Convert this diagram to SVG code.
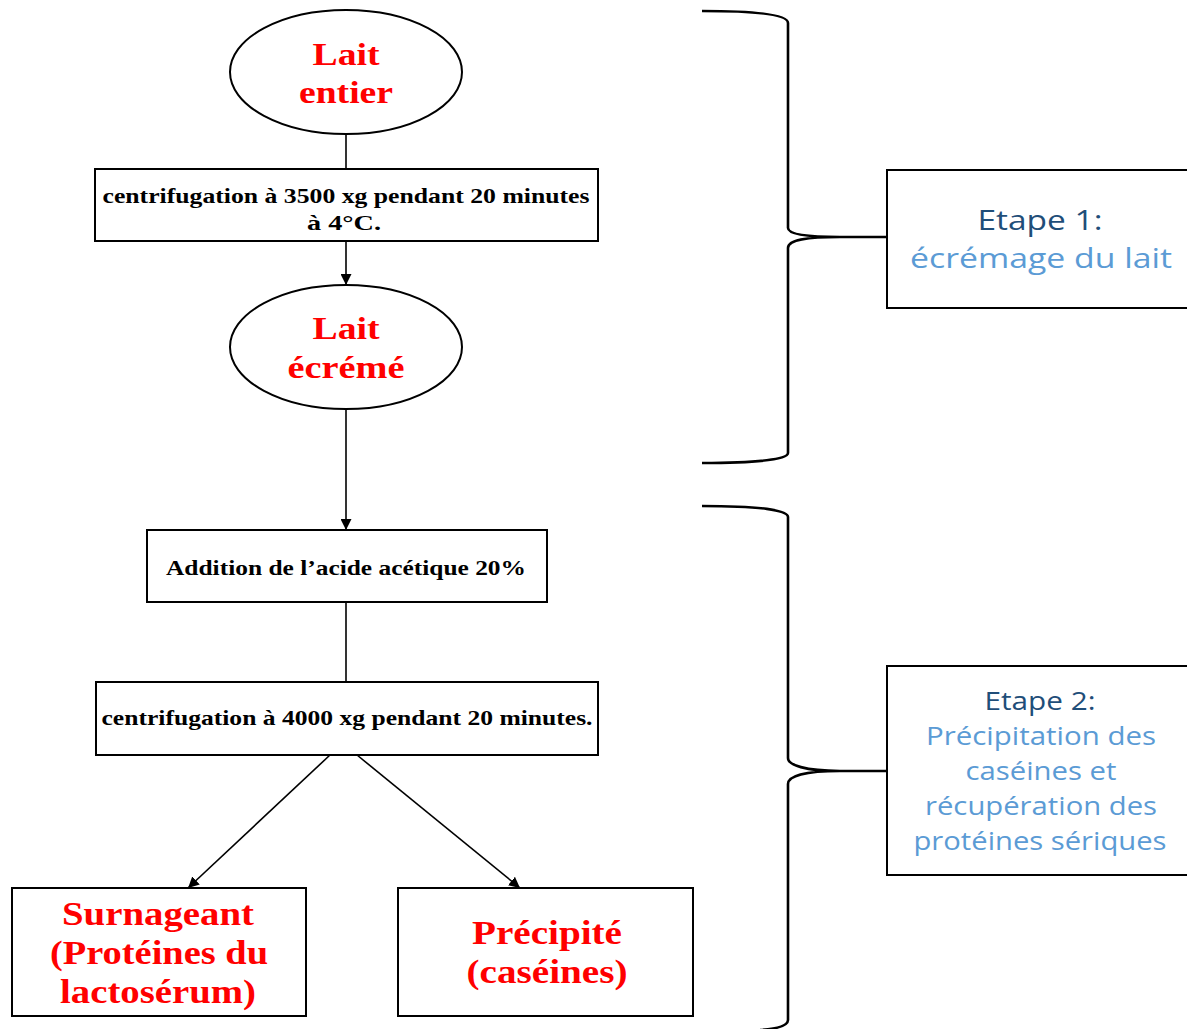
<svg xmlns="http://www.w3.org/2000/svg" width="1187" height="1029" viewBox="0 0 1187 1029">
<style>
.node{fill:#fff;stroke:#000;stroke-width:2}
.red{font-family:"Liberation Serif","Times New Roman",serif;font-weight:bold;font-size:31px;fill:#ff0000;text-anchor:middle}
.red2{font-size:33px}
.blk{font-family:"Liberation Serif","Times New Roman",serif;font-weight:bold;font-size:21.5px;fill:#000;text-anchor:middle}
.conn{stroke:#000;stroke-width:1.6;fill:none}
.brace{stroke:#000;stroke-width:2.6;fill:none}
.et{font-family:"Open Sans","Noto Sans",sans-serif;text-anchor:middle}
.dk{fill:#1f4e79}
.lt{fill:#5b9bd5}
</style>
<defs>
<marker id="arrL" viewBox="0 0 10 10" refX="10" refY="5" markerWidth="11" markerHeight="11" markerUnits="userSpaceOnUse" orient="auto">
<path d="M0,0 L10,5 L0,10 z" fill="#000"/>
</marker>
</defs>
<rect width="1187" height="1029" fill="#fff"/>
<g id="connectors">
<line class="conn" x1="346" y1="134" x2="346" y2="169"/>
<line class="conn" x1="346" y1="241" x2="346" y2="285" marker-end="url(#arrL)"/>
<line class="conn" x1="346" y1="409" x2="346" y2="530" marker-end="url(#arrL)"/>
<line class="conn" x1="346" y1="602" x2="346" y2="682"/>
<line class="conn" x1="330" y1="755" x2="188" y2="888" marker-end="url(#arrL)"/>
<line class="conn" x1="357" y1="755" x2="520" y2="888" marker-end="url(#arrL)"/>
</g>
<g id="lait-entier">
<ellipse class="node" cx="346" cy="72" rx="116" ry="62"/>
<text class="red" x="346" y="65" textLength="67" lengthAdjust="spacingAndGlyphs">Lait</text>
<text class="red" x="346" y="103" textLength="94" lengthAdjust="spacingAndGlyphs">entier</text>
</g>
<g id="centrif1">
<rect class="node" x="95" y="169" width="503" height="72"/>
<text class="blk" x="346" y="203" textLength="487" lengthAdjust="spacingAndGlyphs">centrifugation à 3500 xg pendant 20 minutes</text>
<text class="blk" x="344" y="230" textLength="74" lengthAdjust="spacingAndGlyphs">à 4°C.</text>
</g>
<g id="lait-ecreme">
<ellipse class="node" cx="346" cy="347" rx="116" ry="62"/>
<text class="red" x="346" y="339" textLength="67" lengthAdjust="spacingAndGlyphs">Lait</text>
<text class="red" x="346" y="378" textLength="117" lengthAdjust="spacingAndGlyphs">écrémé</text>
</g>
<g id="addition">
<rect class="node" x="147" y="530" width="400" height="72"/>
<text class="blk" x="346" y="575" textLength="360" lengthAdjust="spacingAndGlyphs">Addition de l’acide acétique 20%</text>
</g>
<g id="centrif2">
<rect class="node" x="96" y="682" width="502" height="73"/>
<text class="blk" x="347" y="725" textLength="491" lengthAdjust="spacingAndGlyphs">centrifugation à 4000 xg pendant 20 minutes.</text>
</g>
<g id="surnageant">
<rect class="node" x="12" y="888" width="294" height="128"/>
<text class="red red2" x="158" y="925" textLength="192" lengthAdjust="spacingAndGlyphs">Surnageant</text>
<text class="red red2" x="159" y="964" textLength="218" lengthAdjust="spacingAndGlyphs">(Protéines du</text>
<text class="red red2" x="158" y="1003" textLength="196" lengthAdjust="spacingAndGlyphs">lactosérum)</text>
</g>
<g id="precipite">
<rect class="node" x="398" y="888" width="295" height="128"/>
<text class="red red2" x="547" y="944" textLength="150" lengthAdjust="spacingAndGlyphs">Précipité</text>
<text class="red red2" x="547" y="983" textLength="161" lengthAdjust="spacingAndGlyphs">(caséines)</text>
</g>
<g id="brace1">
<path class="brace" d="M702,11 C760,11 788,15 788,23 L788,228 C788,234 805,237 840,237 L887,237 M840,237 C805,237 788,240 788,248 L788,453 C788,459 760,463 702,463"/>
</g>
<g id="etape1">
<rect class="node" x="887" y="170" width="310" height="138"/>
<text class="et dk" x="1040" y="230" font-size="28" textLength="125" lengthAdjust="spacingAndGlyphs">Etape 1:</text>
<text class="et lt" x="1041" y="268" font-size="28" textLength="262" lengthAdjust="spacingAndGlyphs">écrémage du lait</text>
</g>
<g id="brace2">
<path class="brace" d="M702,506 C760,506 788,510 788,517 L788,758 C788,765 805,771 840,771 L887,771 M840,771 C805,771 788,776 788,784 L788,1020 C788,1026 775,1029 760,1030"/>
</g>
<g id="etape2">
<rect class="node" x="887" y="666" width="310" height="209"/>
<text class="et dk" x="1040" y="710" font-size="25" textLength="111" lengthAdjust="spacingAndGlyphs">Etape 2:</text>
<text class="et lt" x="1041" y="745" font-size="25" textLength="230" lengthAdjust="spacingAndGlyphs">Précipitation des</text>
<text class="et lt" x="1041" y="780" font-size="25" textLength="151" lengthAdjust="spacingAndGlyphs">caséines et</text>
<text class="et lt" x="1041" y="815" font-size="25" textLength="232" lengthAdjust="spacingAndGlyphs">récupération des</text>
<text class="et lt" x="1040" y="850" font-size="25" textLength="253" lengthAdjust="spacingAndGlyphs">protéines sériques</text>
</g>
</svg>
